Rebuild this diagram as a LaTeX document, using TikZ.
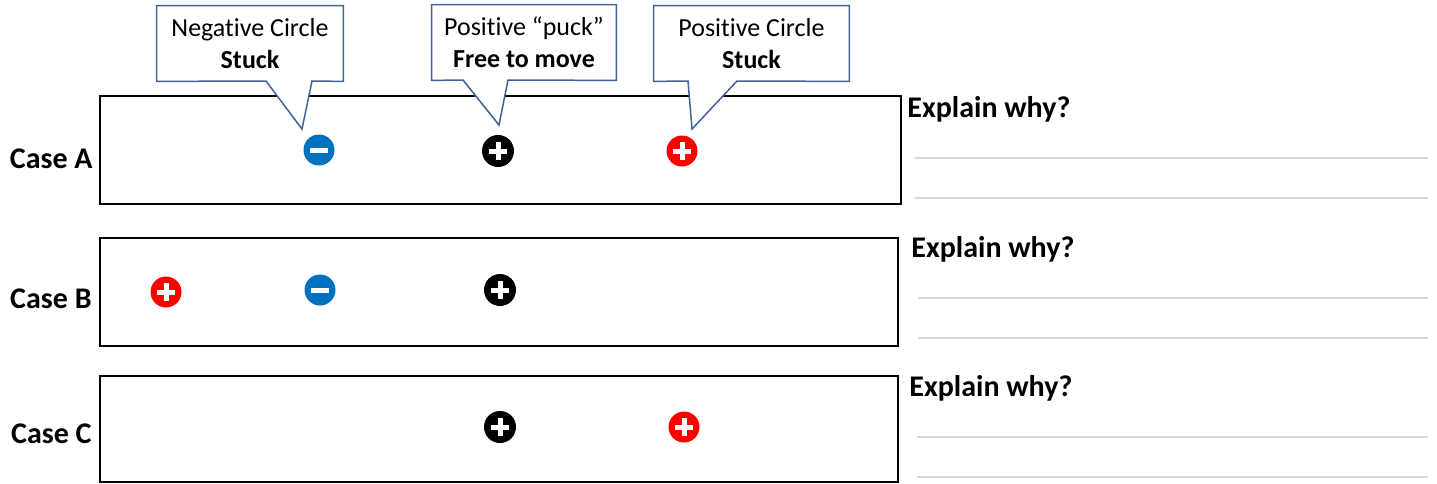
\documentclass[tikz,border=0pt]{standalone}
\usepackage{fontspec}
\setmainfont[Ligatures=NoCommon]{Carlito}
\usetikzlibrary{calc}
\usepackage{xcolor}
\definecolor{negblue}{RGB}{0,112,192}
\definecolor{posred}{RGB}{255,0,0}
\definecolor{noteblue}{RGB}{65,100,150}
\definecolor{rulegray}{RGB}{217,217,217}

\begin{document}
\begin{tikzpicture}[x=0.5pt, y=-0.5pt]
        % ================= styles =================
        \tikzset{
            % frame of one case
            casebox/.style={draw=black, line width=1pt, minimum width=399pt, minimum height=54pt, inner sep=0pt},
            % labels on the left and the question on the right
            caselabel/.style={anchor=base east, font=\fontsize{15}{18}\selectfont\bfseries, inner sep=0pt},
            question/.style={anchor=base west, font=\fontsize{15}{18}\selectfont\bfseries, inner sep=0pt},
            answerline/.style={rulegray, line width=0.6pt},
            % charges: filled circle with a white sign
            charge/.style={circle, minimum size=15.5pt, inner sep=0pt},
            sign/.style={white, line width=2.5pt},
            poscharge/.style={charge, fill=#1, path picture={
                \draw[sign] ([xshift=-4.3pt]path picture bounding box.center) -- ([xshift=4.3pt]path picture bounding box.center);
                \draw[sign] ([yshift=-4.3pt]path picture bounding box.center) -- ([yshift=4.3pt]path picture bounding box.center);}},
            negcharge/.style={charge, fill=negblue, path picture={
                \draw[sign] ([xshift=-4.3pt]path picture bounding box.center) -- ([xshift=4.3pt]path picture bounding box.center);}},
            % callout boxes
            notetext/.style={align=center, font=\fontsize{13}{16}\selectfont, inner sep=0pt, minimum height=37.5pt},
            note/.style={draw=noteblue, line width=0.75pt, fill=white, line join=miter}
        }
        \useasboundingbox (0,0) rectangle (1437,483);

        % ================= case frames =================
        \node[casebox, minimum width=400.5pt] (boxA) at (500.5,150) {};
        \node[casebox] (boxB) at (499,292) {};
        \node[casebox, minimum height=53pt] (boxC) at (499,429) {};

        \node[caselabel] (caseA) at (93,168) {Case A};
        \node[caselabel] (caseB) at (92,308) {Case B};
        \node[caselabel] (caseC) at (92,443) {Case C};

        % ================= charges =================
        \node[negcharge] (negA) at (319,150) {};
        \node[poscharge=black, minimum size=16pt] (puckA) at (498,151) {};
        \node[poscharge=posred] (posA) at (682,151) {};

        \node[poscharge=posred] (posB) at (166,292) {};
        \node[negcharge] (negB) at (320,290) {};
        \node[poscharge=black, minimum size=16pt] (puckB) at (500,290) {};

        \node[poscharge=black, minimum size=16pt] (puckC) at (500,427) {};
        \node[poscharge=posred] (posC) at (684,427) {};

        % ================= explain why + answer lines =================
        \foreach \name/\xq/\yq/\xa/\ya in {A/907/117/915/158, B/911/257/918/298, C/909/396/917/437} {
            \node[question] (why\name) at (\xq,\yq) {Explain why?};
            \draw[answerline] (\xa,\ya) -- (1428,\ya);
            \draw[answerline] (\xa,\ya+40) -- (1428,\ya+40);
        }

        % ================= callouts =================
        \coordinate (negtip) at (302,129);
        \coordinate (pucktip) at (499,125);
        \coordinate (postip) at (692,129);

        \node[notetext, minimum width=93pt] (negnote) at (250,43.5) {};
        \draw[note] (negnote.north west) -- (negnote.north east) -- (negnote.south east)
            -- (312,81) -- (negtip) -- (266,81) -- (negnote.south west) -- cycle;
        \node[notetext] at (negnote) {Negat\kern0pt ive Circle\\\textbf{Stuck}};

        \node[notetext, minimum width=92pt] (pucknote) at (524,42.5) {};
        \draw[note] (pucknote.north west) -- (pucknote.north east) -- (pucknote.south east)
            -- (508,80) -- (pucktip) -- (463,80) -- (pucknote.south west) -- cycle;
        \node[notetext] at (pucknote) {Posit\kern0pt ive “puck”\\\textbf{Free to move}};

        \node[notetext, minimum width=97.5pt] (posnote) at (751.5,43.5) {};
        \draw[note] (posnote.north west) -- (posnote.north east) -- (posnote.south east)
            -- (737,81) -- (postip) -- (688,81) -- (posnote.south west) -- cycle;
        \node[notetext] at (posnote) {Posit\kern0pt ive Circle\\\textbf{Stuck}};

    \end{tikzpicture}
\end{document}
